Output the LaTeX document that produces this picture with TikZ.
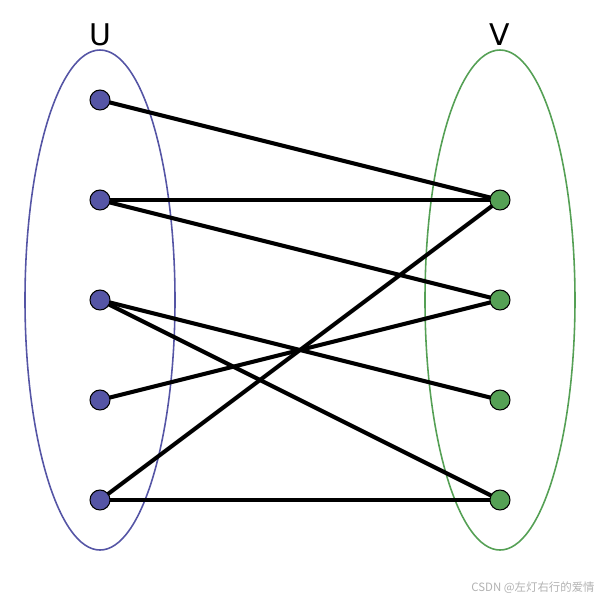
\documentclass[tikz,border=0pt]{standalone}
\usepackage{fontspec}
\setmainfont{DejaVu Sans}
\newfontfamily\cjkfont{Noto Sans CJK SC}
\usetikzlibrary{positioning}
\definecolor{ublue}{RGB}{85,85,165}
\definecolor{vgreen}{RGB}{85,160,85}

\begin{document}
\begin{tikzpicture}[
			x=0.02cm, y=-0.02cm,
			uset/.style={draw=ublue, line width=0.9pt},
			vset/.style={draw=vgreen, line width=0.9pt},
			uvert/.style={circle, draw=black, fill=ublue, minimum size=0.4cm, inner sep=0pt, line width=0.6pt},
			vvert/.style={circle, draw=black, fill=vgreen, minimum size=0.4cm, inner sep=0pt, line width=0.6pt},
			setlabel/.style={font=\fontsize{17}{20}\selectfont, inner sep=0pt},
			match/.style={draw, line width=2.3pt}
			]
			
			% Bounding box
			\useasboundingbox (0,0) rectangle (600,600);
			
			% The two sets
			\draw[uset] (100,300) ellipse [x radius=75, y radius=250];
			\draw[vset] (500,300) ellipse [x radius=75, y radius=250];
			\node[setlabel] (ulabel) at (100,35) {U};
			\node[setlabel] (vlabel) at (500,35) {V};
			
			% Vertices of U
			\foreach \i in {1,...,5}
				\coordinate (pu\i) at (100,\i*100);
			% Vertices of V
			\foreach \i in {1,...,4}
				\coordinate (pv\i) at (500,100+\i*100);
			
			% Edges
			\draw[match] (pu1) -- (pv1);
			\draw[match] (pu2) -- (pv1);
			\draw[match] (pu2) -- (pv2);
			\draw[match] (pu3) -- (pv3);
			\draw[match] (pu3) -- (pv4);
			\draw[match] (pu4) -- (pv2);
			\draw[match] (pu5) -- (pv1);
			\draw[match] (pu5) -- (pv4);
			
			% Vertex dots
			\foreach \i in {1,...,5}
				\node[uvert] (u\i) at (pu\i) {};
			\foreach \i in {1,...,4}
				\node[vvert] (v\i) at (pv\i) {};
			
			% Watermark
			\node[text=black!30, font=\cjkfont\fontsize{6.5}{8}\selectfont, anchor=east, inner sep=0pt] (mark) at (595,588) {CSDN @左灯右行的爱情};
			
		\end{tikzpicture}
\end{document}
